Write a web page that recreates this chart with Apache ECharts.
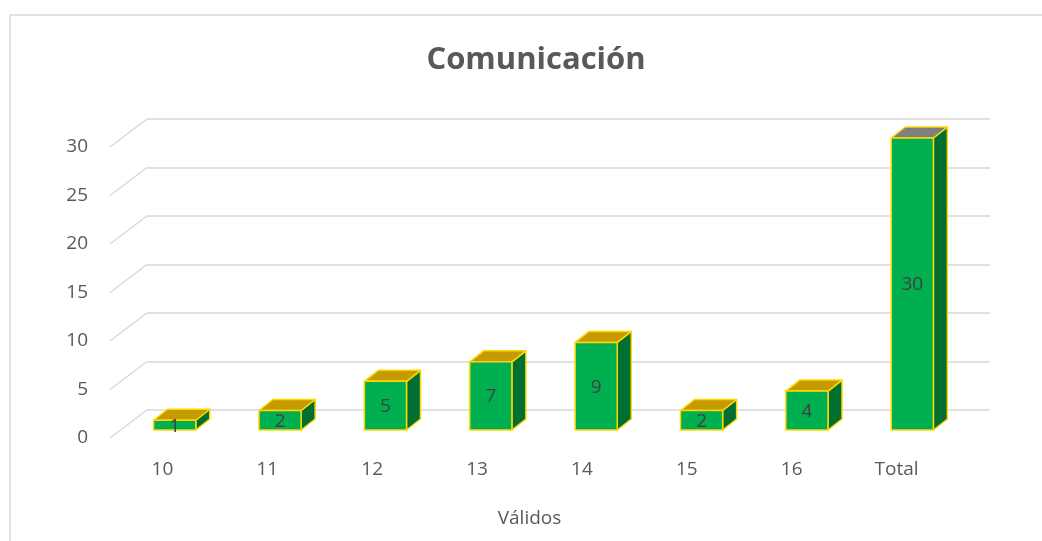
<!DOCTYPE html>
<html>
<head>
<meta charset="utf-8">
<title>Comunicación</title>
<script src="https://cdn.jsdelivr.net/npm/echarts@6/dist/echarts.min.js"></script>
<style>
  html, body { margin: 0; padding: 0; background: #fff; }
  #chart { width: 1042px; height: 541px; }
</style>
</head>
<body>
<div id="chart"></div>
<script type="text/javascript">
    // datos
    var categorias = ['10', '11', '12', '13', '14', '15', '16', 'Total'];
    var frecuencias = [1, 2, 5, 7, 9, 2, 4, 30];
    var marcasEje = [0, 5, 10, 15, 20, 25, 30];

    // desplazamiento de la profundidad (efecto 3D)
    var DX = 14, DY = -11;
    var DEPTH_X = 37, DEPTH_Y = -28;
    var FONT = '"Open Sans", "DejaVu Sans", sans-serif';

    var myChart = echarts.init(document.getElementById('chart'));

    // barra con cara frontal, lateral y superior
    function renderBar(params, api) {
        var cat = api.value(0);
        var v = api.value(1);
        var top = api.coord([cat, v]);
        var base = api.coord([cat, 0]);
        var w = api.size([1, 0])[0] * 0.4;
        var x0 = top[0] - w / 2, x1 = top[0] + w / 2;
        var y0 = top[1], y1 = base[1];
        var borde = { stroke: '#FFD700', lineWidth: 1.5, lineJoin: 'round' };
        var topColor = categorias[params.dataIndex] === 'Total' ? '#7f7f7f' : '#C59A00';
        return {
            type: 'group',
            children: [
                {
                    type: 'polygon',
                    shape: { points: [[x1, y0], [x1 + DX, y0 + DY], [x1 + DX, y1 + DY], [x1, y1]] },
                    style: Object.assign({ fill: '#006F31' }, borde)
                },
                {
                    type: 'polygon',
                    shape: { points: [[x0, y0], [x0 + DX, y0 + DY], [x1 + DX, y0 + DY], [x1, y0]] },
                    style: Object.assign({ fill: topColor }, borde)
                },
                {
                    type: 'rect',
                    shape: { x: x0, y: y0, width: w, height: y1 - y0 },
                    style: Object.assign({ fill: '#00B050' }, borde)
                },
                {
                    type: 'text',
                    x: top[0],
                    y: (y0 + y1) / 2 + 1,
                    style: {
                        text: String(v),
                        fill: '#404040',
                        font: '19px ' + FONT,
                        align: 'center',
                        verticalAlign: 'middle'
                    }
                }
            ]
        };
    }

    // lineas diagonales del suelo/pared lateral
    function renderDiagonal(params, api) {
        var p = api.coord([0, api.value(1)]);
        return {
            type: 'line',
            shape: { x1: p[0], y1: p[1], x2: p[0] + DEPTH_X, y2: p[1] + DEPTH_Y },
            style: { stroke: '#d9d9d9', lineWidth: 1.5 }
        };
    }

    var option = {
        backgroundColor: '#ffffff',
        animation: false,
        title: {
            text: 'Comunicación',
            left: 531,
            top: 40,
            textAlign: 'center',
            textStyle: { fontFamily: FONT, fontSize: 31, fontWeight: 'bold', color: '#595959' }
        },
        graphic: [{
            type: 'rect',
            shape: { x: 10, y: 15, width: 1100, height: 600 },
            style: { fill: 'none', stroke: '#d9d9d9', lineWidth: 1.5 },
            silent: true
        }],
        grid: [
            // pared del fondo
            { left: 147, right: 52, top: 119, bottom: 131 },
            // plano frontal (etiquetas)
            { left: 110, right: 93, top: 147, bottom: 103 },
            // plano de las barras
            { left: 122, right: 77, top: 138, bottom: 111 }
        ],
        xAxis: [
            { gridIndex: 0, type: 'category', data: categorias, show: false },
            {
                gridIndex: 1, type: 'category', data: categorias,
                name: 'Válidos', nameLocation: 'middle', nameGap: 71,
                nameTextStyle: { fontFamily: FONT, fontSize: 19, color: '#595959' },
                axisLine: { show: false }, axisTick: { show: false },
                axisLabel: { fontFamily: FONT, fontSize: 19, color: '#595959', margin: 22 }
            },
            { gridIndex: 2, type: 'category', data: categorias, show: false },
            { gridIndex: 1, type: 'value', min: 0, max: 1, show: false, position: 'top' }
        ],
        yAxis: [
            {
                gridIndex: 0, type: 'value', min: 0, max: 30, interval: 5,
                axisLabel: { show: false }, axisLine: { show: false }, axisTick: { show: false },
                splitLine: { lineStyle: { color: '#d9d9d9', width: 1.5 } }
            },
            {
                gridIndex: 1, type: 'value', min: 0, max: 30, interval: 5,
                axisLine: { show: false }, axisTick: { show: false }, splitLine: { show: false },
                axisLabel: { fontFamily: FONT, fontSize: 19, color: '#595959', margin: 22 }
            },
            { gridIndex: 2, type: 'value', min: 0, max: 30, interval: 5, show: false }
        ],
        series: [
            {
                type: 'custom',
                xAxisIndex: 3,
                yAxisIndex: 1,
                renderItem: renderDiagonal,
                data: marcasEje.map(function (m) { return [0, m]; }),
                silent: true
            },
            {
                type: 'custom',
                xAxisIndex: 2,
                yAxisIndex: 2,
                renderItem: renderBar,
                data: frecuencias.map(function (f, i) { return [i, f]; }),
                z: 5
            }
        ]
    };
    myChart.setOption(option);
</script>
</body>
</html>
